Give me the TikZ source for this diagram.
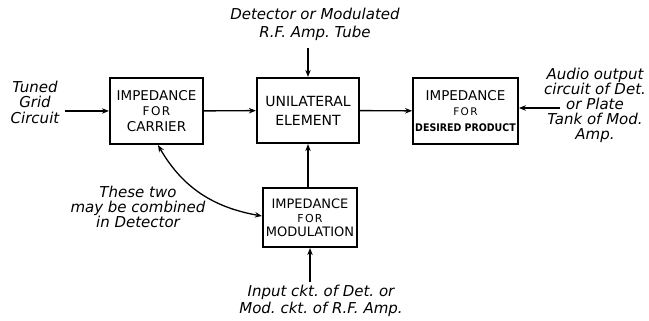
\documentclass[tikz,border=0pt]{standalone}
\usepackage{fontspec}
\setmainfont{DejaVu Sans}
\newfontfamily\condfont{DejaVu Sans Condensed}
\usetikzlibrary{positioning, arrows.meta}

\newcommand{\forword}[1][12]{{\fontsize{#1}{#1}\selectfont\addfontfeature{LetterSpace=12}FOR}}

\begin{document}
\frenchspacing
\begin{tikzpicture}[
      x=1pt, y=1pt,
      % Styling nodes
      base/.style={
        draw,
        rectangle,
        line width=2.2pt,
        align=center,
        inner sep=2pt,
        font=\fontsize{13.5}{15.5}\selectfont
      },
      carrierbox/.style={base, minimum width=93pt, minimum height=66pt},
      unibox/.style={base, minimum width=102pt, minimum height=65pt, font=\fontsize{14}{19}\selectfont},
      productbox/.style={base, minimum width=103pt, minimum height=66pt},
      modbox/.style={base, minimum width=94pt, minimum height=59pt, font=\fontsize{13}{14}\selectfont},
      note/.style={align=center, inner sep=0pt, font=\fontsize{15}{15}\selectfont\itshape},
      arrow/.style={-{Stealth[length=7pt,width=5.5pt]}, line width=1.4pt},
      twoway/.style={{Stealth[length=7pt,width=5.5pt]}-{Stealth[length=7pt,width=5.5pt]}, line width=1.3pt}
    ]
    \useasboundingbox (0,0) rectangle (649,321);

    % Main row of boxes
    \node (carrier) [carrierbox] at (156.5,210) {IMPEDANCE\\\forword\\CARRIER};
    \node (unilateral) [unibox] at (308,210.5) {UNILATERAL\\ELEMENT};
    \node (product) [productbox] at (465.5,210) {IMPEDANCE\\\forword[10.5]\\{\condfont\bfseries\fontsize{10.5}{12}\selectfont DESIRED PRODUCT}};
    \node (modulation) [modbox] at (310,103.5) {IMPEDANCE\\\forword[11]\\MODULATION};

    % Outside circuits
    \node (tube) [note, font=\fontsize{15}{18}\selectfont\itshape] at (315,297) {Detector or Modulated\\R.F. Amp. Tube};
    \node (tuned) [note, font=\fontsize{15}{15.5}\selectfont\itshape] at (35,219) {Tuned\\Grid\\Circuit};
    \node (audio) [note] at (595,216) {Audio output\\circuit of Det.\\or Plate\\Tank of Mod.\\Amp.};
    \node (input) [note, font=\fontsize{15}{17}\selectfont\itshape] at (321,20) {Input ckt. of Det. or\\Mod. ckt. of R.F. Amp.};
    \node (combined) [note] at (138,114) {These two\\may be combined\\in Detector};

    \coordinate (tubeout) at (308,273);
    \coordinate (audioout) at (560,213);

    % Arrows
    \draw[arrow] ([xshift=5pt]tuned.east |- carrier) -- (carrier);
    \draw[arrow] (carrier) -- (unilateral);
    \draw[arrow] (unilateral) -- (product);
    \draw[arrow] (audioout) -- (audioout -| product.east);
    \draw[arrow] (tubeout) -- (unilateral);
    \draw[arrow] (modulation.north -| unilateral) -- (unilateral);
    \draw[arrow] ([yshift=3pt]input.north -| modulation) -- (modulation);

    % Carrier and modulation may be combined
    \draw[twoway] ([xshift=1.5pt]carrier.south) to[out=-60, in=170] ([yshift=1.5pt]modulation.west);

  \end{tikzpicture}
\end{document}
